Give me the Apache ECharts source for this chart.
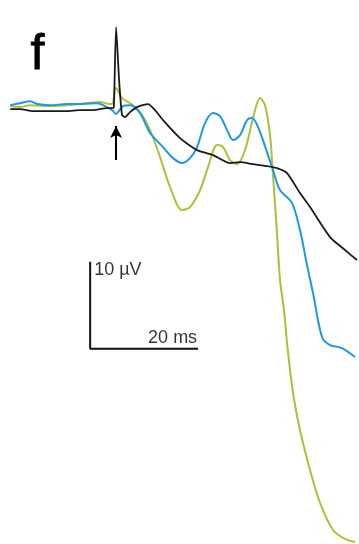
<!DOCTYPE html>
<html>
<head>
<meta charset="utf-8">
<script src="https://cdn.jsdelivr.net/npm/echarts@6/dist/echarts.min.js"></script>
<style>
  html, body { margin: 0; padding: 0; background: #fff; }
  #main { width: 359px; height: 544px; }
</style>
</head>
<body>
<div id="main"></div>
<script>
// time in ms (0 = stimulus), potential in µV
var blackT = [-19.6, -17.8, -15.4, -12.2, -9.1, -6.7, -4.3, -1.7, -0.6, -0.4, 0, 0.56, 1.11, 1.67, 2.59, 3.89, 5.93, 7.22, 8.70, 11.85, 15.0, 17.96, 21.11, 22.96, 25.37, 27.96, 29.81, 31.67, 34.07, 35.93, 39.63, 42.41, 44.63];
var blackV = [-0.34, -0.34, -0.57, -0.57, -0.57, -0.46, -0.46, -0.23, -0.23, -0.11, 9.08, 2.99, -1.03, -1.26, -0.69, -0.11, 0.23, -0.46, -1.61, -3.68, -5.06, -5.63, -6.55, -6.44, -6.67, -6.90, -7.13, -7.70, -10.0, -11.61, -15.06, -16.55, -17.70];

var blueT = [-19.6, -17.8, -15.9, -14.6, -12.2, -9.1, -6.1, -3.5, -1.7, -0.56, 0, 0.37, 1.30, 2.59, 4.44, 6.30, 8.70, 10.56, 12.22, 13.70, 15.0, 16.48, 17.96, 19.26, 20.56, 21.67, 22.96, 24.26, 25.19, 26.30, 27.96, 29.07, 30.37, 32.59, 34.07, 35.37, 36.48, 38.15, 39.63, 41.85, 44.26];
var blueV = [0.11, 0.34, 0.57, 0.23, 0.11, 0.23, 0.23, 0.34, -0.11, -0.57, -0.92, -0.69, 0, 0.11, -0.80, -3.10, -4.71, -5.98, -6.55, -5.98, -4.71, -1.95, -0.80, -1.15, -2.76, -3.91, -3.33, -1.61, -1.38, -2.41, -5.29, -7.36, -9.66, -11.15, -14.25, -18.28, -21.49, -26.55, -27.47, -27.82, -28.85];

var greenT = [-19.6, -17.8, -15.9, -13.5, -9.1, -5.4, -3.0, -1.1, -0.56, -0.19, 0.19, 1.11, 2.59, 4.44, 6.30, 8.15, 10.0, 12.22, 13.70, 15.56, 17.04, 18.70, 19.81, 21.11, 22.41, 23.89, 25.37, 26.67, 27.59, 28.52, 29.07, 29.81, 30.37, 31.11, 31.67, 32.78, 34.07, 35.93, 37.78, 40.19, 42.41, 44.26];
var greenV = [0, -0.11, 0.11, 0, 0.11, 0.34, 0.46, 0.23, 0.34, 2.07, 1.95, 0.92, 0.34, -0.69, -2.76, -5.86, -9.31, -11.95, -11.61, -9.66, -7.01, -4.48, -4.71, -6.21, -6.67, -5.06, -1.38, 0.92, 0.11, -3.33, -7.93, -14.60, -20.0, -23.45, -27.24, -32.99, -37.24, -41.84, -45.63, -48.74, -49.77, -50.11];

// scale bars: 10 µV and 20 ms
var barT = [-4.8, -4.8, 15.2];
var barV = [-17.9, -27.9, -27.9];

function pairs(t, v) {
  return t.map(function (x, i) { return [x, v[i]]; });
}

var chart = echarts.init(document.getElementById('main'));
var option = {
  backgroundColor: '#fff',
  animation: false,
  grid: { left: 0, right: 0, top: 0, bottom: 0 },
  xAxis: { type: 'value', min: -21.5, max: 45, show: false },
  yAxis: { type: 'value', min: -50.35, max: 12.2, show: false },
  graphic: [
    {
      type: 'text', left: 30, top: 30,
      style: { text: 'f', font: '50px "Liberation Sans", Arial, sans-serif', fill: '#000', stroke: '#000', lineWidth: 0.8 }
    }
  ],
  series: [
    {
      type: 'line', data: pairs(blackT, blackV), showSymbol: false, smooth: 0.2,
      lineStyle: { color: '#1a1a1a', width: 1.8 }, z: 3
    },
    {
      type: 'line', data: pairs(blueT, blueV), showSymbol: false, smooth: 0.3,
      lineStyle: { color: '#1f98e3', width: 2 }, z: 2
    },
    {
      type: 'line', data: pairs(greenT, greenV), showSymbol: false, smooth: 0.3,
      lineStyle: { color: '#a9c23a', width: 2 }, z: 1
    },
    {
      type: 'line', data: pairs(barT, barV), showSymbol: false,
      lineStyle: { color: '#111', width: 2 },
      markLine: {
        silent: true, symbol: ['none', 'arrow'], symbolSize: [9, 12],
        lineStyle: { color: '#000', width: 2, type: 'solid' }, label: { show: false },
        data: [[{ coord: [0, -6.2] }, { coord: [0, -2.3] }]]
      }
    },
    {
      type: 'scatter', symbolSize: 0,
      data: [
        { value: [barT[0], barV[0]], label: { formatter: '10 µV', position: 'right', distance: 4, offset: [0, 8] } },
        { value: [barT[2], barV[2]], label: { formatter: '20 ms', position: 'left', distance: 1, offset: [0, -11] } }
      ],
      label: { show: true, color: '#000', fontSize: 18, fontFamily: '"Liberation Sans", Arial, sans-serif' }
    }
  ]
};
chart.setOption(option);
</script>
</body>
</html>
